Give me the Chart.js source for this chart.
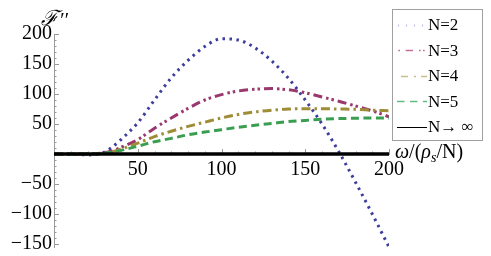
<!DOCTYPE html>
<html>
<head>
<meta charset="utf-8">
<script src="https://cdn.jsdelivr.net/npm/chart.js@4.4.0/dist/chart.umd.min.js"></script>
<style>
  html, body { margin: 0; padding: 0; background: #fff; }
  #wrap { width: 491px; height: 256px; }
</style>
</head>
<body>
<div id="wrap"><canvas id="chart" width="491" height="256"></canvas></div>
<script>
// omega / (rho_s / N) sample points
const omega = [0, 10, 20, 25, 30, 35, 40, 50, 60, 70, 80, 90, 100, 110, 120, 130, 140, 150, 160, 170, 180, 190, 200];

// F'' for each N
const fN2 = [0, -0.5, -1.5, -0.5, 3, 12, 24, 52, 90, 127, 156, 179, 192, 190, 177, 155, 126, 90, 50, 4, -47, -100, -155];
const fN3 = [0, 0, 0, 0.5, 2, 5, 11, 24, 43, 60, 76, 90, 99, 105, 108, 109, 107, 102, 95, 88, 80, 72, 62];
const fN4 = [0, 0, 0, 0.3, 1.5, 4, 8, 18, 29, 38, 46, 53, 60, 66, 70, 73, 75, 75.5, 75.5, 75, 74.5, 73, 72];
const fN5 = [0, 0, 0, 0.2, 1, 3, 6, 13, 20.5, 26, 32, 36.5, 40.5, 44.5, 48, 51, 54, 56, 58, 59, 59.5, 60, 60];
const omegaInf = [0, 200];
const fInf = [0, 0];

const seriesLabels = ['N=2', 'N=3', 'N=4', 'N=5', 'N\u2192 \u221e'];
const xTicks = [50, 100, 150, 200];
const yTicks = [-150, -100, -50, 50, 100, 150, 200];

const toPoints = (xs, ys) => xs.map((x, i) => ({ x: x, y: ys[i] }));

// styles: curve colour/dash and the paler legend sample
const styles = [
  { color: 'rgb(61,61,158)', dash: [2.5, 4.5], width: 3, key: '#a8a8dc', keyDash: [1, 7], keyOffset: -1 },
  { color: 'rgb(153,55,110)', dash: [9, 4, 2.5, 3, 2.5, 4], width: 3, key: '#c4709c', keyDash: [7.3, 6, 1.7, 2.3, 1.7, 5.7], keyOffset: 16 },
  { color: 'rgb(158,140,55)', dash: [9, 4, 2.5, 4], width: 3, key: '#cbbd8c', keyDash: [7, 6, 2, 5], keyOffset: 16 },
  { color: 'rgb(58,158,80)', dash: [8, 4.5], width: 3, key: '#64bd80', keyDash: [7.5, 5.5], keyOffset: 0 },
  { color: '#000', dash: [], width: 3.5, key: '#000', keyDash: [], keyOffset: 0 }
];

const serif = "'Liberation Serif', 'DejaVu Serif', serif";

// ticks inside the axes, mathematica style (majors + minors)
const axisTicks = {
  id: 'axisTicks',
  beforeDatasetsDraw(chart) {
    const ctx = chart.ctx, x = chart.scales.x, y = chart.scales.y;
    const x0 = x.getPixelForValue(0), y0 = y.getPixelForValue(0);
    ctx.save();
    ctx.strokeStyle = '#9a9a9a';
    ctx.lineWidth = 1;
    ctx.beginPath();
    for (let v = -150; v <= 200; v += 10) {
      const py = Math.round(y.getPixelForValue(v)) + 0.5;
      const len = v % 50 === 0 ? 5 : 2.5;
      ctx.moveTo(x0, py); ctx.lineTo(x0 + len, py);
    }
    for (let v = 10; v <= 200; v += 10) {
      const px = Math.round(x.getPixelForValue(v)) + 0.5;
      const len = v % 50 === 0 ? 5 : 2.5;
      ctx.moveTo(px, y0); ctx.lineTo(px, y0 - len);
    }
    ctx.stroke();
    ctx.restore();
  },
  afterDraw(chart) {
    const ctx = chart.ctx, x = chart.scales.x, y = chart.scales.y;
    ctx.save();
    ctx.fillStyle = '#000';
    ctx.textBaseline = 'alphabetic';

    // y title
    ctx.font = "italic 21px 'DejaVu Serif', serif";
    ctx.fillText('\u2131', 41, 25);
    ctx.font = 'italic 20px ' + serif;
    ctx.fillText('\u2032\u2032', 59, 27);

    // x title: omega/(rho_s/N)
    let px = x.right + 6;
    const base = y.getPixelForValue(0) + 4;
    const part = (txt, font, dy) => {
      ctx.font = font;
      ctx.fillText(txt, px, base + (dy || 0));
      px += ctx.measureText(txt).width;
    };
    part('\u03c9', 'italic 20px ' + serif);
    part('/(', '20px ' + serif);
    part('\u03c1', 'italic 20px ' + serif);
    part('s', 'italic 14px ' + serif, 4);
    part('/N)', '20px ' + serif);

    // legend box
    const bx = 392.5, by = 9.5, bw = 90, bh = 131;
    ctx.fillStyle = '#fff';
    ctx.fillRect(bx, by, bw, bh);
    ctx.strokeStyle = '#a0a0a0';
    ctx.lineWidth = 1;
    ctx.strokeRect(bx, by, bw, bh);
    ctx.font = '17px ' + serif;
    ctx.textBaseline = 'middle';
    seriesLabels.forEach((label, i) => {
      const ly = 25 + i * 25.4;
      const s = styles[i];
      ctx.strokeStyle = s.key;
      ctx.lineWidth = i === 4 ? 1 : 1.5;
      ctx.setLineDash(s.keyDash);
      ctx.lineDashOffset = s.keyOffset;
      ctx.beginPath();
      ctx.moveTo(397, Math.round(ly) + 0.5);
      ctx.lineTo(427, Math.round(ly) + 0.5);
      ctx.stroke();
      ctx.setLineDash([]);
      ctx.fillStyle = '#000';
      ctx.fillText(label, 428, ly + 1);
    });
    ctx.restore();
  }
};

const curves = [fN2, fN3, fN4, fN5].map((ys, i) => ({
  label: seriesLabels[i],
  data: toPoints(omega, ys),
  borderColor: styles[i].color,
  borderDash: styles[i].dash,
  borderWidth: styles[i].width,
  order: 4 - i
}));
curves.push({
  label: seriesLabels[4],
  data: toPoints(omegaInf, fInf),
  borderColor: styles[4].color,
  borderWidth: styles[4].width,
  order: 0
});

new Chart(document.getElementById('chart'), {
  type: 'line',
  data: { datasets: curves },
  options: {
    responsive: false,
    animation: false,
    layout: { padding: { top: 34, right: 102, bottom: 9, left: 0 } },
    elements: {
      point: { radius: 0 },
      line: { cubicInterpolationMode: 'monotone', fill: false, borderCapStyle: 'butt' }
    },
    plugins: { legend: { display: false }, tooltip: { enabled: false } },
    scales: {
      x: {
        type: 'linear',
        min: 0, max: 200,
        position: { y: 0 },
        grid: { display: false, drawTicks: false },
        border: { display: true, color: '#9a9a9a' },
        afterBuildTicks: s => { s.ticks = xTicks.map(v => ({ value: v })); },
        afterFit: s => { s.paddingLeft = 0; s.paddingRight = 0; },
        ticks: { padding: 4, color: '#000', font: { family: serif, size: 20 }, maxRotation: 0 }
      },
      y: {
        type: 'linear',
        min: -155, max: 200,
        grid: { display: false, drawTicks: false },
        border: { display: true, color: '#9a9a9a' },
        afterBuildTicks: s => { s.ticks = yTicks.map(v => ({ value: v })); },
        afterFit: s => { s.width = 54; s.paddingTop = 0; s.paddingBottom = 0; },
        ticks: {
          padding: 2, color: '#000', font: { family: serif, size: 20 },
          callback: v => (v < 0 ? '\u2212' + Math.abs(v) : String(v))
        }
      }
    }
  },
  plugins: [axisTicks]
});
</script>
</body>
</html>
